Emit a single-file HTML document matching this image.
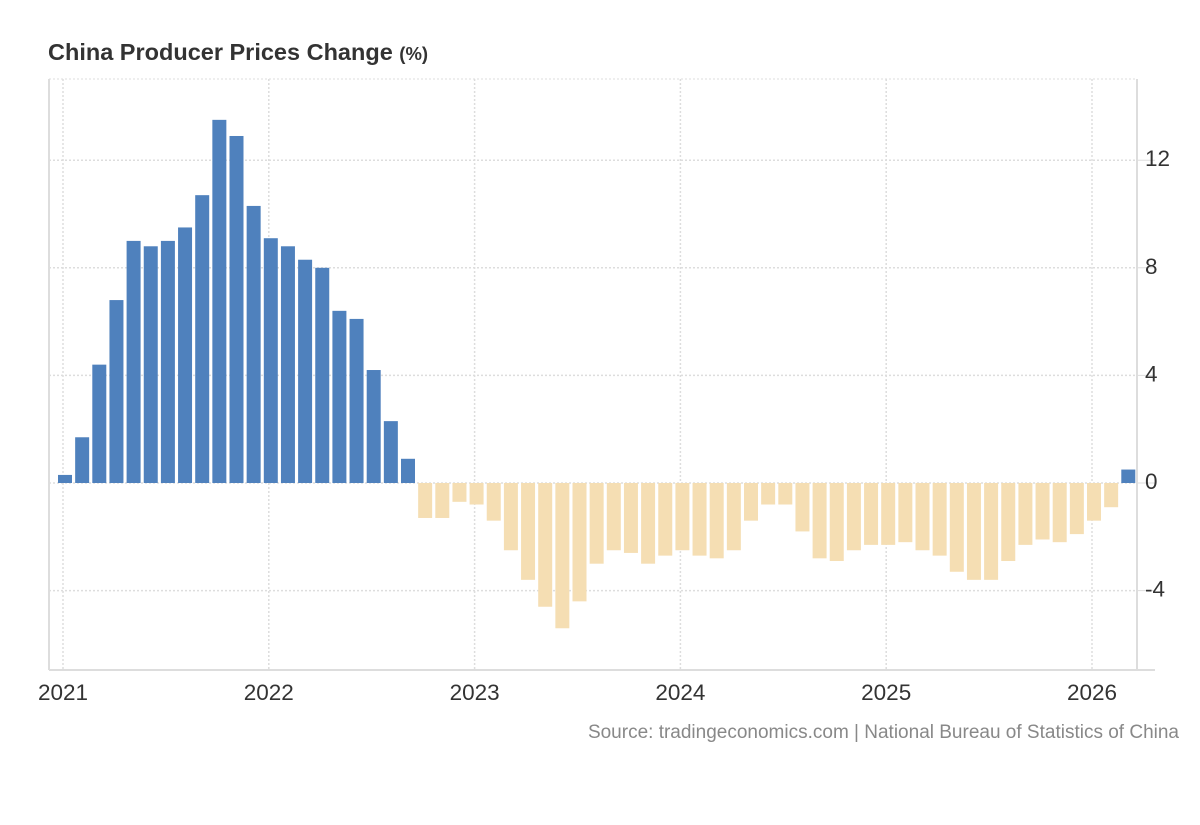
<!DOCTYPE html>
<html><head><meta charset="utf-8"><style>
body{margin:0;background:#fff;font-family:"Liberation Sans",Arial,sans-serif;}
</style></head><body>
<svg id="chart" width="1200" height="820" xmlns="http://www.w3.org/2000/svg">
<text x="48" y="60" font-size="23.5" font-weight="bold" fill="#333">China Producer Prices Change <tspan font-size="18.5">(%)</tspan></text>
<g id="grid"></g><g id="bars"></g><g id="axes"></g>
<text x="1179" y="738" text-anchor="end" font-size="19" fill="#888">Source: tradingeconomics.com | National Bureau of Statistics of China</text>
</svg>
<script>
const values=[0.3,1.7,4.4,6.8,9.0,8.8,9.0,9.5,10.7,13.5,12.9,10.3,
9.1,8.8,8.3,8.0,6.4,6.1,4.2,2.3,0.9,-1.3,-1.3,-0.7,
-0.8,-1.4,-2.5,-3.6,-4.6,-5.4,-4.4,-3.0,-2.5,-2.6,-3.0,-2.7,
-2.5,-2.7,-2.8,-2.5,-1.4,-0.8,-0.8,-1.8,-2.8,-2.9,-2.5,-2.3,
-2.3,-2.2,-2.5,-2.7,-3.3,-3.6,-3.6,-2.9,-2.3,-2.1,-2.2,-1.9,
-1.4,-0.9,0.5];
const yTicks=[12,8,4,0,-4];
const xLabels=["2021","2022","2023","2024","2025","2026"];
const NS="http://www.w3.org/2000/svg";
const y=v=>483-v*26.9;
const x=i=>65+i*17.15;
function mk(t,a,p){const e=document.createElementNS(NS,t);for(const k in a)e.setAttribute(k,a[k]);p.appendChild(e);return e;}
const g=document.getElementById('grid'),b=document.getElementById('bars'),ax=document.getElementById('axes');
mk('line',{x1:49,x2:1137,y1:79,y2:79,stroke:'#ddd','stroke-dasharray':'2,2'},g);
yTicks.forEach(t=>{
 const l=mk('line',{x1:49,x2:1137,y1:y(t),y2:y(t),stroke:'#ddd','stroke-width':1.5,'stroke-dasharray':'2,2'},g);
 
 
 mk('line',{x1:1137,x2:1155,y1:y(t),y2:y(t),stroke:'#ddd'},ax);
 const tx=mk('text',{x:1145,y:y(t)+6,'font-size':22.5,fill:'#333'},ax);tx.textContent=t;
 
 
});
xLabels.forEach((s,i)=>{
 const px=x(i*12)-2;
 mk('line',{x1:px,x2:px,y1:79,y2:670,stroke:'#ddd','stroke-width':1.5,'stroke-dasharray':'2,2'},g);
 const tx=mk('text',{x:px,y:700,'font-size':22.5,fill:'#333','text-anchor':'middle'},ax);tx.textContent=s;
 
 
});
values.forEach((v,i)=>{
 const r=mk('rect',{x:x(i)-7,y:Math.min(y(v),y(0)),width:14,height:Math.abs(y(v)-y(0)),fill:v>=0?'#4f81bd':'#f5deb3'},b);
 
 
});
mk('line',{x1:49,x2:49,y1:79,y2:670,stroke:'#ddd','stroke-width':2},ax);
mk('line',{x1:1137,x2:1137,y1:79,y2:670,stroke:'#ddd','stroke-width':2},ax);
mk('line',{x1:49,x2:1155,y1:670,y2:670,stroke:'#ddd','stroke-width':2},ax);
</script>
</body></html>
